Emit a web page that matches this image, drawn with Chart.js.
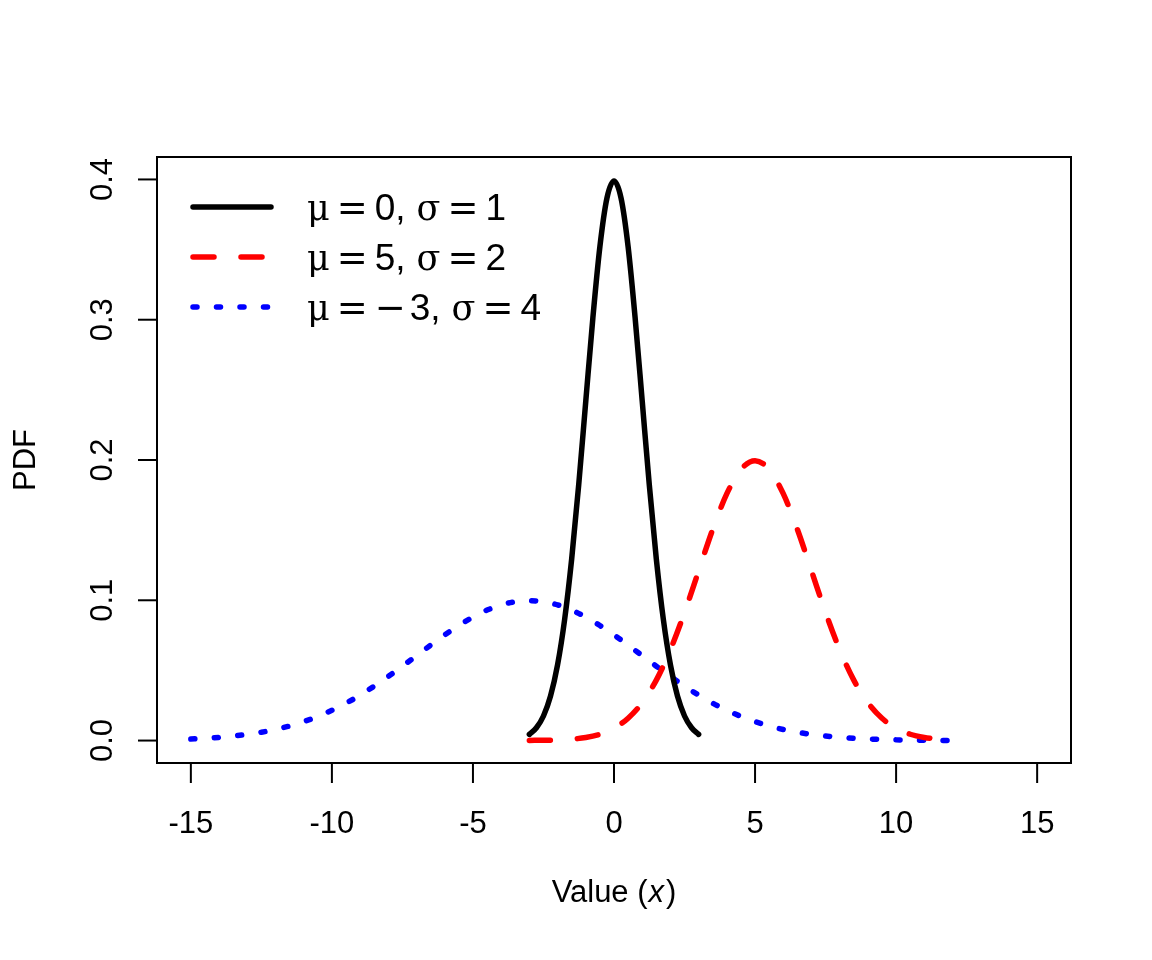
<!DOCTYPE html>
<html lang="en">
<head>
    <meta charset="UTF-8">
    <title>Normal PDF</title>
    <script src="https://cdn.jsdelivr.net/npm/chart.js"></script>
    <style>
        body {
            margin: 0;
            background: #ffffff;
        }
        canvas {
            display: block;
        }
    </style>
</head>
<body>
    <canvas id="pdfChart" width="1152" height="960"></canvas>

    <script>
        // legend labels, one per curve
        const seriesLabels = ['μ = 0, σ = 1', 'μ = 5, σ = 2', 'μ = − 3, σ = 4'];
        const seriesColors = ['#000000', '#ff0000', '#0000ff'];

        // mu = 0, sigma = 1
        const xA = [-3, -2.75, -2.5, -2.25, -2, -1.75, -1.5, -1.25, -1, -0.75, -0.5, -0.25, 0,
                    0.25, 0.5, 0.75, 1, 1.25, 1.5, 1.75, 2, 2.25, 2.5, 2.75, 3];
        const pdfA = [0.0044, 0.0091, 0.0175, 0.0317, 0.0540, 0.0863, 0.1295, 0.1826, 0.2420, 0.3011, 0.3521, 0.3867, 0.3989,
                      0.3867, 0.3521, 0.3011, 0.2420, 0.1826, 0.1295, 0.0863, 0.0540, 0.0317, 0.0175, 0.0091, 0.0044];

        // mu = 5, sigma = 2
        const xB = [-3, -2.5, -2, -1.5, -1, -0.5, 0, 0.5, 1, 1.5, 2, 2.5, 3, 3.5, 4, 4.5, 5,
                    5.5, 6, 6.5, 7, 7.5, 8, 8.5, 9, 9.5, 10, 10.5, 11, 11.5, 12];
        const pdfB = [0.0001, 0.0002, 0.0004, 0.0010, 0.0022, 0.0045, 0.0088, 0.0159, 0.0270, 0.0431, 0.0648, 0.0913, 0.1210, 0.1506, 0.1760, 0.1933, 0.1995,
                      0.1933, 0.1760, 0.1506, 0.1210, 0.0913, 0.0648, 0.0431, 0.0270, 0.0159, 0.0088, 0.0045, 0.0022, 0.0010, 0.0004];

        // mu = -3, sigma = 4
        const xC = [-15, -14.5, -14, -13.5, -13, -12.5, -12, -11.5, -11, -10.5, -10, -9.5, -9, -8.5, -8, -7.5, -7,
                    -6.5, -6, -5.5, -5, -4.5, -4, -3.5, -3, -2.5, -2, -1.5, -1, -0.5, 0, 0.5, 1, 1.5, 2, 2.5, 3,
                    3.5, 4, 4.5, 5, 5.5, 6, 6.5, 7, 7.5, 8, 8.5, 9, 9.5, 10, 10.5, 11, 11.5, 12];
        const pdfC = [0.0011, 0.0016, 0.0023, 0.0032, 0.0044, 0.0059, 0.0079, 0.0104, 0.0135, 0.0172, 0.0216, 0.0266, 0.0324, 0.0388, 0.0457, 0.0530, 0.0605,
                      0.0680, 0.0753, 0.0820, 0.0880, 0.0930, 0.0967, 0.0990, 0.0997, 0.0990, 0.0967, 0.0930, 0.0880, 0.0820, 0.0753, 0.0680, 0.0605, 0.0530, 0.0457, 0.0388, 0.0324,
                      0.0266, 0.0216, 0.0172, 0.0135, 0.0104, 0.0079, 0.0059, 0.0044, 0.0032, 0.0023, 0.0016, 0.0011, 0.0008, 0.0005, 0.0003, 0.0002, 0.0001, 0.0001];

        const xTicks = [-15, -10, -5, 0, 5, 10, 15];
        const yTicks = [0, 0.1, 0.2, 0.3, 0.4];
        const yTickLabels = ['0.0', '0.1', '0.2', '0.3', '0.4'];

        const SANS = '"Liberation Sans", Arial, sans-serif';
        const LINE_W = 5.5;

        function toPoints(xs, ys) {
            return xs.map((x, i) => ({ x: x, y: ys[i] }));
        }

        const dashes = [[], [21, 27], [4, 19.5]];

        // draws "μ = 0, σ = 1" token by token, R plotmath style
        function drawMathLabel(ctx, label, x, y) {
            const tokens = label.split(' ');
            let cx = x;
            tokens.forEach((tok, i) => {
                let font = '37px ' + SANS;
                if (tok === 'μ' || tok === 'σ') font = '35px "DejaVu Serif"';
                if (tok === '=' || tok === '−') font = '37px "DejaVu Sans"';
                ctx.font = font;
                ctx.fillText(tok, cx, y);
                cx += ctx.measureText(tok).width;
                if (i < tokens.length - 1) {
                    if (tok.endsWith(',')) cx += 11;
                    else if (tok === '−') cx += 4;
                    else cx += 7;
                }
            });
        }

        const rBase = {
            id: 'rBase',
            afterDraw(chart) {
                const ctx = chart.ctx;
                const area = chart.chartArea;
                const xs = chart.scales.x;
                const ys = chart.scales.y;
                ctx.save();
                ctx.strokeStyle = '#000';
                ctx.fillStyle = '#000';
                ctx.lineWidth = 2;
                ctx.lineCap = 'butt';

                // box
                ctx.strokeRect(area.left, area.top, area.right - area.left, area.bottom - area.top);

                // x axis ticks + labels
                ctx.font = '31px ' + SANS;
                ctx.textAlign = 'center';
                ctx.textBaseline = 'alphabetic';
                xTicks.forEach(v => {
                    const px = xs.getPixelForValue(v);
                    ctx.beginPath();
                    ctx.moveTo(px, area.bottom);
                    ctx.lineTo(px, area.bottom + 20);
                    ctx.stroke();
                    ctx.fillText(String(v), px, area.bottom + 70);
                });

                // y axis ticks + rotated labels
                yTicks.forEach((v, i) => {
                    const py = ys.getPixelForValue(v);
                    ctx.beginPath();
                    ctx.moveTo(area.left, py);
                    ctx.lineTo(area.left - 19, py);
                    ctx.stroke();
                    ctx.save();
                    ctx.translate(area.left - 45, py);
                    ctx.rotate(-Math.PI / 2);
                    ctx.fillText(yTickLabels[i], 0, 0);
                    ctx.restore();
                });

                // axis titles
                const midX = (area.left + area.right) / 2;
                const midY = (area.top + area.bottom) / 2;
                ctx.save();
                ctx.translate(35, midY);
                ctx.rotate(-Math.PI / 2);
                ctx.fillText('PDF', 0, 0);
                ctx.restore();

                const partA = 'Value (';
                const partB = 'x';
                const partC = ')';
                ctx.font = '31px ' + SANS;
                const wA = ctx.measureText(partA).width;
                const wC = ctx.measureText(partC).width;
                ctx.font = 'italic 31px ' + SANS;
                const wB = ctx.measureText(partB).width + 3;
                let tx = midX - (wA + wB + wC) / 2;
                ctx.textAlign = 'left';
                ctx.font = '31px ' + SANS;
                ctx.fillText(partA, tx, area.bottom + 139);
                ctx.font = 'italic 31px ' + SANS;
                ctx.fillText(partB, tx + wA + 1, area.bottom + 139);
                ctx.font = '31px ' + SANS;
                ctx.fillText(partC, tx + wA + wB, area.bottom + 139);

                // legend, no box
                seriesLabels.forEach((lab, i) => {
                    const ly = area.top + 50 + i * 50;
                    ctx.save();
                    ctx.strokeStyle = seriesColors[i];
                    ctx.lineWidth = LINE_W;
                    ctx.lineCap = 'round';
                    ctx.setLineDash(dashes[i]);
                    ctx.beginPath();
                    ctx.moveTo(area.left + 36, ly);
                    ctx.lineTo(area.left + 114, ly);
                    ctx.stroke();
                    ctx.restore();
                    ctx.fillStyle = '#000';
                    drawMathLabel(ctx, lab, area.left + 150, ly + 13);
                });
                ctx.restore();
            }
        };

        const ctx = document.getElementById('pdfChart').getContext('2d');
        new Chart(ctx, {
            type: 'scatter',
            data: {
                datasets: [
                    { label: seriesLabels[0], data: toPoints(xA, pdfA), borderColor: seriesColors[0], borderDash: dashes[0] },
                    { label: seriesLabels[1], data: toPoints(xB, pdfB), borderColor: seriesColors[1], borderDash: dashes[1] },
                    { label: seriesLabels[2], data: toPoints(xC, pdfC), borderColor: seriesColors[2], borderDash: dashes[2] }
                ].map(d => Object.assign(d, {
                    showLine: true,
                    pointRadius: 0,
                    borderWidth: LINE_W,
                    borderCapStyle: 'round',
                    borderJoinStyle: 'round',
                    cubicInterpolationMode: 'monotone',
                    fill: false
                }))
            },
            options: {
                responsive: false,
                animation: false,
                devicePixelRatio: 1,
                layout: {
                    padding: { top: 157, right: 81, left: 0, bottom: 0 }
                },
                plugins: {
                    legend: { display: false },
                    tooltip: { enabled: false }
                },
                scales: {
                    x: {
                        type: 'linear',
                        min: -16.2,
                        max: 16.2,
                        grid: { display: false },
                        border: { display: false },
                        ticks: { display: false },
                        afterFit(scale) { scale.height = 197; }
                    },
                    y: {
                        type: 'linear',
                        min: -0.016,
                        max: 0.416,
                        grid: { display: false },
                        border: { display: false },
                        ticks: { display: false },
                        afterFit(scale) { scale.width = 157; }
                    }
                }
            },
            plugins: [rBase]
        });
    </script>
</body>
</html>
